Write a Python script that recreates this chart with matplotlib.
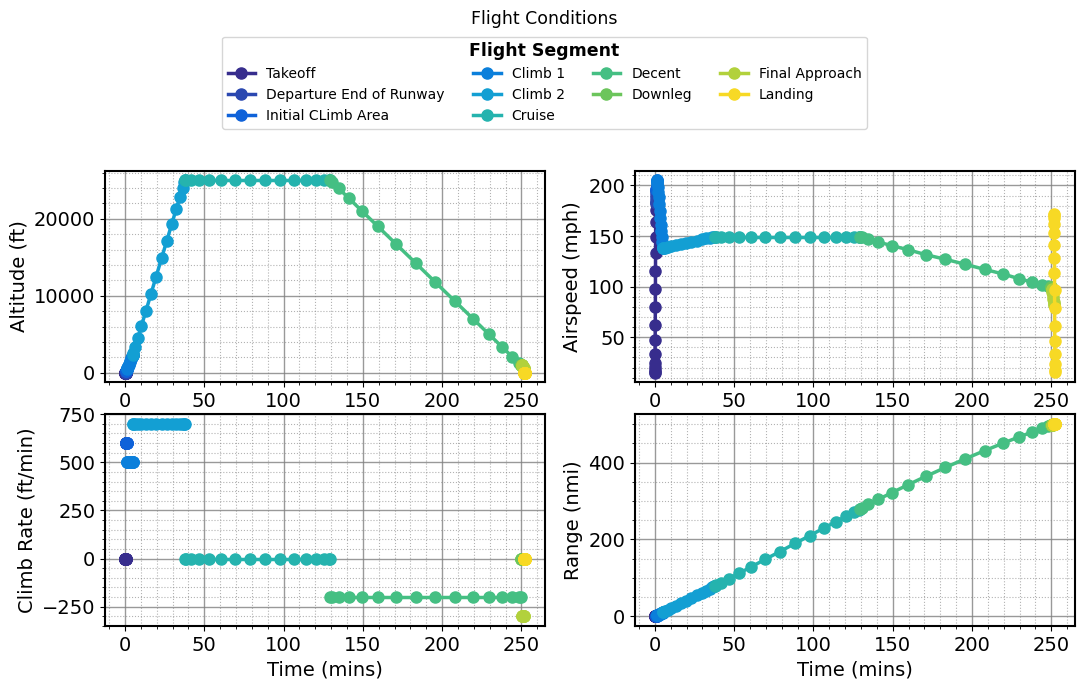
import matplotlib
matplotlib.use("Agg")
from matplotlib import pyplot as plt
from matplotlib.ticker import MultipleLocator, AutoMinorLocator

"""
Flight Conditions: altitude, airspeed, climb rate and range per flight segment
"""

segment_names = ['Takeoff', 'Departure End of Runway', 'Initial CLimb Area',
                 'Climb 1', 'Climb 2', 'Cruise', 'Decent', 'Downleg',
                 'Final Approach', 'Landing']
segment_colors = ['#372d8d', '#2b48b0', '#0f62d9', '#0b7fdb', '#139fd3',
                  '#25b3ae', '#45bf83', '#6cc55c', '#b2d13c', '#f7d925']

# Takeoff
takeoff_time = [0.0, 0.005, 0.022, 0.048, 0.083, 0.125, 0.173, 0.224, 0.276, 0.327,
                0.375, 0.417, 0.452, 0.478, 0.495, 0.5]
takeoff_alt = [0, 0, 0, 0, 0, 0, 0, 0, 0, 0, 0, 0, 0, 0, 0, 0]
takeoff_speed = [15, 16, 18, 21, 25, 33, 47, 62, 80, 98, 115.5, 133, 149, 163.5, 175.5, 183]
takeoff_rate = [0, 0, 0, 0, 0, 0, 0, 0, 0, 0, 0, 0, 0, 0, 0, 0]
takeoff_range = [0, 0, 0, 0.01, 0.02, 0.04, 0.07, 0.11, 0.16, 0.22, 0.29, 0.36, 0.43, 0.5, 0.56, 0.6]

# Departure End of Runway
departure_time = [0.5, 0.54, 0.64, 0.76, 0.86, 0.9]
departure_alt = [0, 24, 84, 156, 216, 240]
departure_speed = [183, 184.2, 187.2, 190.8, 193.8, 195]
departure_rate = [600, 600, 600, 600, 600, 600]
departure_range = [0.6, 0.67, 0.84, 1.05, 1.23, 1.3]

# Initial CLimb Area
initial_time = [0.9, 0.95, 1.07, 1.23, 1.35, 1.4]
initial_alt = [240, 270, 342, 438, 510, 540]
initial_speed = [195, 196, 198.4, 201.6, 204, 205]
initial_rate = [600, 600, 600, 600, 600, 600]
initial_range = [1.3, 1.37, 1.54, 1.77, 1.93, 2.0]

# Climb 1
climb1_time = [1.4, 1.44, 1.56, 1.74, 2.0, 2.3, 2.64, 3.01, 3.39, 3.76, 4.1, 4.4,
               4.66, 4.84, 4.96, 5.0]
climb1_alt = [540, 560, 620, 710, 840, 990, 1160, 1345, 1535, 1720, 1890, 2040,
              2170, 2260, 2320, 2340]
climb1_speed = [205, 204.3, 202.1, 198.6, 193.9, 188.3, 181.9, 175.0, 168.0, 161.1,
                154.8, 149.1, 144.4, 140.9, 138.7, 138]
climb1_rate = [500, 500, 500, 500, 500, 500, 500, 500, 500, 500, 500, 500, 500, 500, 500, 500]
climb1_range = [2.0, 2.09, 2.35, 2.76, 3.32, 4.0, 4.76, 5.58, 6.42, 7.24, 8.0, 8.68,
                9.24, 9.65, 9.91, 10.0]

# Climb 2
climb2_time = [5.0, 5.36, 6.41, 8.12, 10.41, 13.18, 16.30, 19.64, 23.06, 26.40,
               29.53, 32.29, 34.58, 36.29, 37.34, 37.7]
climb2_alt = [2340, 2590, 3320, 4500, 6090, 8010, 10170, 12490, 14860, 17170,
              19340, 21250, 22840, 24030, 24750, 25000]
climb2_speed = [138, 138.1, 138.5, 139.1, 139.9, 140.9, 142.0, 143.1, 144.4, 145.5,
                146.6, 147.6, 148.4, 149.0, 149.4, 149.5]
climb2_rate = [700, 700, 700, 700, 700, 700, 700, 700, 700, 700, 700, 700, 700, 700, 700, 700]
climb2_range = [10, 10.7, 12.9, 16.5, 21.3, 27.0, 33.5, 40.5, 47.6, 54.5, 61.1,
                66.8, 71.6, 75.2, 77.4, 78]

# Cruise
cruise_time = [37.7, 38.7, 41.67, 46.47, 52.88, 60.65, 69.42, 78.80, 88.40, 97.78,
               106.55, 114.32, 120.73, 125.53, 128.50, 129.5]
cruise_alt = [25000, 25000, 25000, 25000, 25000, 25000, 25000, 25000, 25000, 25000,
              25000, 25000, 25000, 25000, 25000, 25000]
cruise_speed = [149.5, 149.5, 149.5, 149.5, 149.5, 149.5, 149.5, 149.5, 149.5, 149.5,
                149.5, 149.5, 149.5, 149.5, 149.5, 149.5]
cruise_rate = [0, 0, 0, 0, 0, 0, 0, 0, 0, 0, 0, 0, 0, 0, 0, 0]
cruise_range = [78, 80.2, 86.7, 97.3, 111.4, 128.5, 147.8, 168.4, 189.6, 210.2,
                229.5, 246.6, 260.7, 271.2, 277.8, 280]

# Decent
decent_time = [129.5, 130.81, 134.68, 140.96, 149.35, 159.5, 170.96, 183.22, 195.78,
               208.04, 219.5, 229.65, 238.04, 244.32, 248.19, 249.5]
decent_alt = [25000, 24740, 23960, 22710, 21030, 19000, 16710, 14260, 11740, 9290,
              7000, 4970, 3290, 2040, 1260, 1000]
decent_speed = [149.5, 149.0, 147.0, 144.0, 140.5, 136.5, 131.5, 127.0, 122.0, 117.0,
                112.5, 107.8, 104.3, 102.0, 100.6, 100.0]
decent_rate = [-200, -200, -200, -200, -200, -200, -200, -200, -200, -200, -200, -200,
               -200, -200, -200, -200]
decent_range = [280, 282.8, 291.1, 304.4, 321.6, 342.1, 364.5, 387.4, 410.2, 431.4,
                450.6, 467.0, 479.9, 489.3, 495.1, 497.0]

# Downleg
downleg_time = [249.5, 249.6, 249.85, 250.1, 250.2]
downleg_alt = [1000, 1000, 1000, 1000, 1000]
downleg_speed = [100, 99.7, 99, 98.3, 98]
downleg_rate = [0, 0, 0, 0, 0]
downleg_range = [497, 497.2, 497.6, 498.0, 498.2]

# Final Approach
approach_time = [250.2, 250.3, 250.55, 250.9, 251.2, 251.5, 251.7, 251.8]
approach_alt = [1000, 970, 895, 790, 700, 610, 550, 520]
approach_speed = [98, 97, 94.5, 91, 88, 85, 83, 82]
approach_rate = [-300, -300, -300, -300, -300, -300, -300, -300]
approach_range = [498.2, 498.35, 498.7, 499.2, 499.65, 500.1, 500.4, 500.6]

# Landing
landing_time = [251.8, 251.8, 251.82, 251.84, 251.87, 251.9, 251.94, 251.98, 252.02,
                252.06, 252.1, 252.13, 252.16, 252.18, 252.19, 252.2]
landing_alt = [0, 0, 0, 0, 0, 0, 0, 0, 0, 0, 0, 0, 0, 0, 0, 0]
landing_speed = [172, 171, 168, 161.5, 153, 141.5, 128.5, 113, 97, 79, 61, 46.5,
                 33.5, 24, 18, 16]
landing_rate = [0, 0, 0, 0, 0, 0, 0, 0, 0, 0, 0, 0, 0, 0, 0, 0]
landing_range = [500.6, 500.6, 500.62, 500.65, 500.68, 500.72, 500.76, 500.8, 500.84,
                 500.88, 500.92, 500.95, 500.97, 500.99, 501.0, 501.0]

times = [takeoff_time, departure_time, initial_time, climb1_time, climb2_time,
         cruise_time, decent_time, downleg_time, approach_time, landing_time]
altitudes = [takeoff_alt, departure_alt, initial_alt, climb1_alt, climb2_alt,
             cruise_alt, decent_alt, downleg_alt, approach_alt, landing_alt]
speeds = [takeoff_speed, departure_speed, initial_speed, climb1_speed, climb2_speed,
          cruise_speed, decent_speed, downleg_speed, approach_speed, landing_speed]
rates = [takeoff_rate, departure_rate, initial_rate, climb1_rate, climb2_rate,
         cruise_rate, decent_rate, downleg_rate, approach_rate, landing_rate]
ranges = [takeoff_range, departure_range, initial_range, climb1_range, climb2_range,
          cruise_range, decent_range, downleg_range, approach_range, landing_range]

fig, axes = plt.subplots(2, 2, figsize=(10.89, 6.9), dpi=100)
fig.subplots_adjust(left=0.0964, right=0.987, bottom=0.093, top=0.7526,
                    wspace=0.2045, hspace=0.151)

ax_alt, ax_spd = axes[0]
ax_cr, ax_rng = axes[1]

for i in range(len(segment_names)):
    kw = dict(color=segment_colors[i], marker='o', markersize=8, linewidth=2.5,
              label=segment_names[i])
    ax_alt.plot(times[i], altitudes[i], **kw)
    ax_spd.plot(times[i], speeds[i], **kw)
    ax_cr.plot(times[i], rates[i], **kw)
    ax_rng.plot(times[i], ranges[i], **kw)

ax_alt.set_ylabel('Altitude (ft)', fontsize=14)
ax_spd.set_ylabel('Airspeed (mph)', fontsize=14)
ax_cr.set_ylabel('Climb Rate (ft/min)', fontsize=14)
ax_rng.set_ylabel('Range (nmi)', fontsize=14)
ax_cr.set_xlabel('Time (mins)', fontsize=14)
ax_rng.set_xlabel('Time (mins)', fontsize=14)

ax_alt.yaxis.set_major_locator(MultipleLocator(10000))
ax_spd.yaxis.set_major_locator(MultipleLocator(50))
ax_cr.yaxis.set_major_locator(MultipleLocator(250))
ax_rng.yaxis.set_major_locator(MultipleLocator(200))

for ax in axes.flat:
    ax.xaxis.set_major_locator(MultipleLocator(50))
    ax.xaxis.set_minor_locator(AutoMinorLocator())
    ax.yaxis.set_minor_locator(AutoMinorLocator())
    ax.grid(which='major', color='grey', linestyle='-', linewidth=1, alpha=0.8)
    ax.grid(which='minor', color='grey', linestyle=':', linewidth=0.8, alpha=0.6)
    ax.tick_params(which='major', labelsize=14)
    for s in ax.spines.values():
        s.set_linewidth(1.5)

fig.suptitle('Flight Conditions', fontsize=12.5, y=0.985)
handles, labels = ax_alt.get_legend_handles_labels()
fig.legend(handles, labels, loc='upper center', bbox_to_anchor=(0.5, 0.957), ncol=4,
           fontsize=10, title='Flight Segment',
           title_fontproperties={'weight': 'bold', 'size': 12.5})

fig.savefig('out.png', dpi=100)
